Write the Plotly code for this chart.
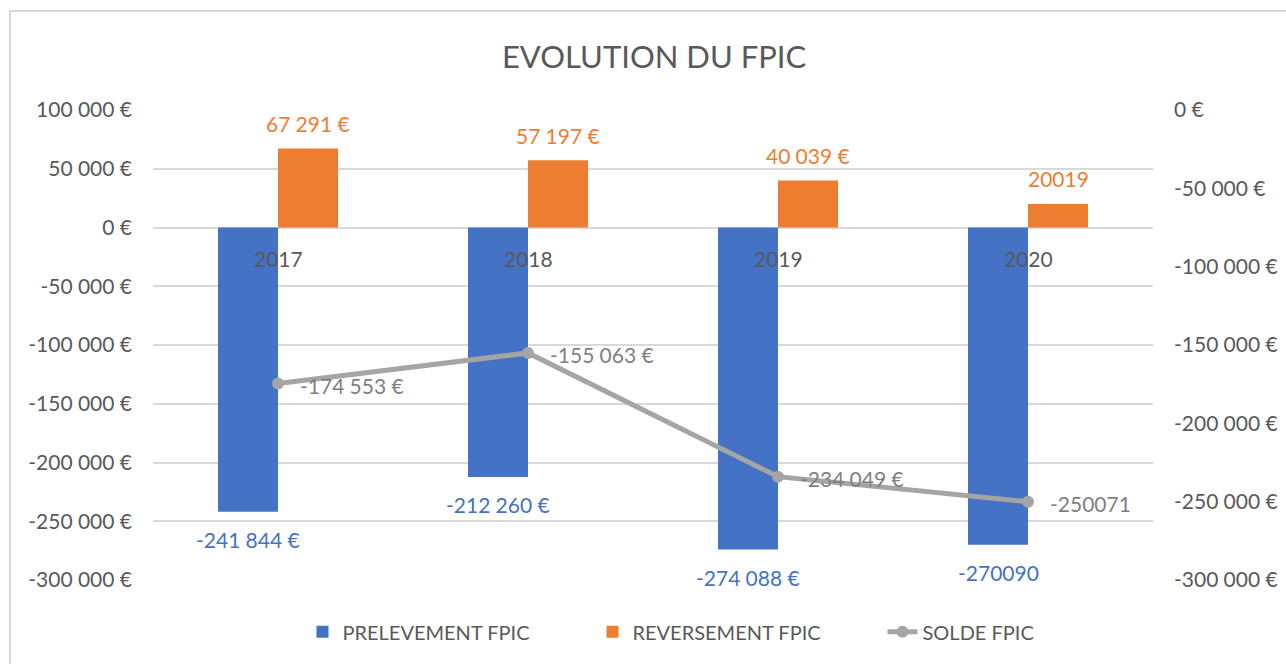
import plotly.graph_objects as go

# ---- data ----
years = ["2017", "2018", "2019", "2020"]
prelevement = [-241844, -212260, -274088, -270090]
reversement = [67291, 57197, 40039, 20019]
solde = [-174553, -155063, -234049, -250071]
# whether Excel showed the label with thousand separators and the euro sign
prel_fmt = [True, True, True, False]
rev_fmt = [True, True, True, False]
solde_fmt = [True, True, True, False]

left_ticks = [100000, 50000, 0, -50000, -100000, -150000, -200000, -250000, -300000]
right_ticks = [0, -50000, -100000, -150000, -200000, -250000, -300000]

title = "EVOLUTION DU FPIC"
names = ["PRELEVEMENT FPIC", "REVERSEMENT FPIC", "SOLDE FPIC"]

BLUE = "#4472C4"
ORANGE = "#ED7D31"
GRAY = "#A5A5A5"
TXT = "#595959"
FONT = "Lato"
FS = 21


def eur(v, fmt=True):
    if not fmt:
        return str(v)
    s = f"{abs(v):,}".replace(",", "\u202f")
    return ("-" if v < 0 else "") + s + "\u00a0€"


fig = go.Figure()
fig.add_trace(go.Bar(x=years, y=prelevement, name=names[0], marker_color=BLUE,
                     marker_line_width=0, yaxis="y"))
fig.add_trace(go.Bar(x=years, y=reversement, name=names[1], marker_color=ORANGE,
                     marker_line_width=0, yaxis="y"))
fig.add_trace(go.Scatter(x=years, y=solde, name=names[2], mode="lines+markers",
                         line=dict(color=GRAY, width=5),
                         marker=dict(color=GRAY, size=12), yaxis="y2"))

ann = []
for i, yr in enumerate(years):
    # category axis: annotations use the category index
    ann.append(dict(x=i, y=prelevement[i], xref="x", yref="y", text=eur(prelevement[i], prel_fmt[i]),
                    showarrow=False, xshift=-30, yshift=-28, yanchor="middle",
                    font=dict(family=FONT, size=FS, color=BLUE)))
    ann.append(dict(x=i, y=reversement[i], xref="x", yref="y", text=eur(reversement[i], rev_fmt[i]),
                    showarrow=False, xshift=30, yshift=25, yanchor="middle",
                    font=dict(family=FONT, size=FS, color=ORANGE)))
    ann.append(dict(x=i, y=solde[i], xref="x", yref="y2", text=eur(solde[i], solde_fmt[i]),
                    showarrow=False, xshift=20, yshift=-2, xanchor="left", yanchor="middle",
                    font=dict(family=FONT, size=FS, color="#7F7F7F")))
    ann.append(dict(x=i, y=0, xref="x", yref="y", text=yr, showarrow=False,
                    yshift=-31, yanchor="middle",
                    font=dict(family=FONT, size=FS, color=TXT)))

fig.update_layout(
    width=1286, height=664,
    margin=dict(l=153, r=133, t=110, b=84),
    paper_bgcolor="white", plot_bgcolor="white",
    font=dict(family=FONT, size=FS, color=TXT),
    title=dict(text=title, x=0.5086, xanchor="center", y=0.914, yanchor="middle",
               font=dict(family=FONT, size=31, color=TXT)),
    barmode="group", bargap=0.52, bargroupgap=0,
    showlegend=True,
    legend=dict(orientation="h", x=0.5845, xanchor="center", y=-0.11, yanchor="middle",
                font=dict(family=FONT, size=20, color=TXT), entrywidth=245,
                traceorder="normal"),
    xaxis=dict(type="category", range=[-0.5, len(years) - 0.5], showticklabels=False,
               showgrid=False, zeroline=False, showline=False, ticks="", automargin=False),
    yaxis=dict(range=[-300000, 100000], tickvals=left_ticks,
               ticktext=[eur(v) for v in left_ticks],
               showgrid=True, gridcolor="#D9D9D9", gridwidth=1.5,
               zeroline=True, zerolinecolor="#D9D9D9", zerolinewidth=1.5,
               showline=False, ticks="", ticklabelstandoff=20, automargin=False,
               tickfont=dict(family=FONT, size=FS, color=TXT)),
    yaxis2=dict(range=[-300000, 0], tickvals=right_ticks,
                ticktext=[eur(v) for v in right_ticks],
                overlaying="y", side="right", showgrid=False, zeroline=False,
                showline=False, ticks="", ticklabelstandoff=20, automargin=False,
                tickfont=dict(family=FONT, size=FS, color=TXT)),
    annotations=ann,
    shapes=[dict(type="rect", xref="paper", yref="paper", x0=-0.143, x1=1.137,
                 y0=-0.19, y1=1.2106, line=dict(color="#D9D9D9", width=2),
                 fillcolor="rgba(0,0,0,0)", layer="below")],
)

fig.write_html("out.html", config={"displayModeBar": False},
               post_script="document.body.style.margin='0';")
